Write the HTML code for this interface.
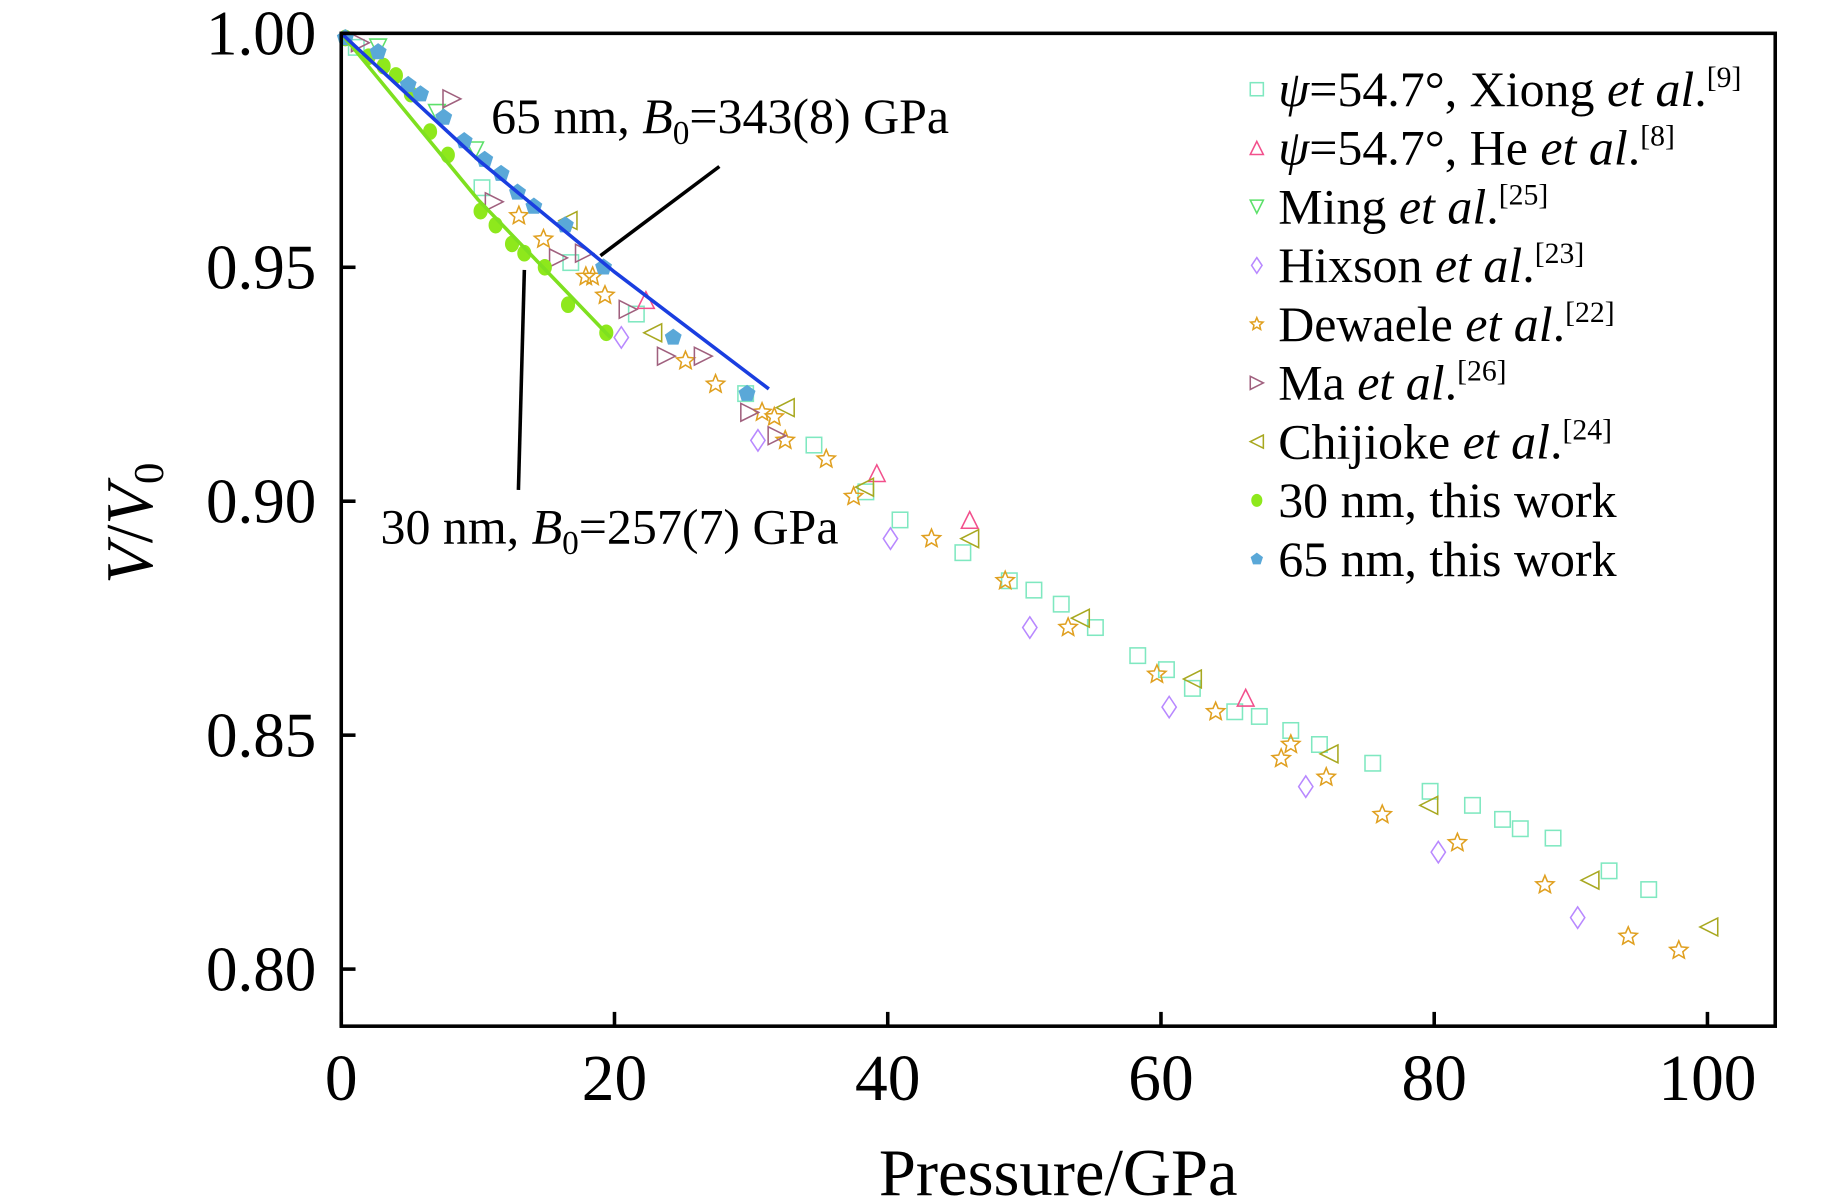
<!DOCTYPE html>
<html><head><meta charset="utf-8"><style>
html,body{margin:0;padding:0;background:#fff;}
svg{display:block;font-family:"Liberation Serif",serif;}
</style></head><body>
<svg id="chart" width="1843" height="1201" viewBox="0 0 1550 1010" xmlns="http://www.w3.org/2000/svg">
<g id="marks"></g>
<rect x="287" y="28" width="1206" height="835" fill="none" stroke="#000" stroke-width="3"/>
<g id="axes"></g>
<text x="890" y="1005" font-size="56" text-anchor="middle">Pressure/GPa</text>
<text transform="translate(128,440) rotate(-90)" font-size="56" text-anchor="middle"><tspan font-style="italic">V</tspan>/<tspan font-style="italic">V</tspan><tspan font-size="36" dy="9">0</tspan></text>
<line x1="505" y1="215" x2="605" y2="140" stroke="#000" stroke-width="3"/>
<line x1="436" y1="412" x2="441" y2="227" stroke="#000" stroke-width="3"/>
<text x="413" y="112" font-size="42">65 nm, <tspan font-style="italic">B</tspan><tspan font-size="28" dy="9">0</tspan><tspan dy="-9">=343(8) GPa</tspan></text>
<text x="320" y="457" font-size="42">30 nm, <tspan font-style="italic">B</tspan><tspan font-size="28" dy="9">0</tspan><tspan dy="-9">=257(7) GPa</tspan></text>
<g id="legend" font-size="42">
<text x="1075" y="89"><tspan font-style="italic">ψ</tspan>=54.7°, Xiong <tspan font-style="italic">et al</tspan>.<tspan font-size="25" dy="-16">[9]</tspan></text>
<text x="1075" y="138.4"><tspan font-style="italic">ψ</tspan>=54.7°, He <tspan font-style="italic">et al</tspan>.<tspan font-size="25" dy="-16">[8]</tspan></text>
<text x="1075" y="187.8">Ming <tspan font-style="italic">et al</tspan>.<tspan font-size="25" dy="-16">[25]</tspan></text>
<text x="1075" y="237.2">Hixson <tspan font-style="italic">et al</tspan>.<tspan font-size="25" dy="-16">[23]</tspan></text>
<text x="1075" y="286.6">Dewaele <tspan font-style="italic">et al</tspan>.<tspan font-size="25" dy="-16">[22]</tspan></text>
<text x="1075" y="336">Ma <tspan font-style="italic">et al</tspan>.<tspan font-size="25" dy="-16">[26]</tspan></text>
<text x="1075" y="385.4">Chijioke <tspan font-style="italic">et al</tspan>.<tspan font-size="25" dy="-16">[24]</tspan></text>
<text x="1075" y="434.8">30 nm, this work</text>
<text x="1075" y="484.2">65 nm, this work</text>
</g>
<script>
const xTicks=[0,20,40,60,80,100];
const yTicks=[0.80,0.85,0.90,0.95,1.00];
const yTickLabels=["0.80","0.85","0.90","0.95","1.00"];
const xiongP=[1.1,10.3,16.8,21.6,29.6,34.6,38.4,40.9,45.5,48.9,50.7,52.7,55.2,58.3,60.4,62.3,65.4,67.2,69.5,71.6,75.5,79.7,82.8,85.0,86.3,88.7,92.8,95.7];
const xiongV=[0.997,0.967,0.951,0.940,0.923,0.912,0.902,0.896,0.889,0.883,0.881,0.878,0.873,0.867,0.864,0.860,0.855,0.854,0.851,0.848,0.844,0.838,0.835,0.832,0.830,0.828,0.821,0.817];
const heP=[22.3,39.2,46.0,66.2];
const heV=[0.943,0.906,0.896,0.858];
const mingP=[2.7,7.0,9.8];
const mingV=[0.997,0.983,0.975];
const hixP=[20.5,30.5,40.2,50.4,60.6,70.6,80.3,90.5];
const hixV=[0.935,0.913,0.892,0.873,0.856,0.839,0.825,0.811];
const dewP=[13.0,14.8,17.9,18.4,19.3,25.2,27.4,30.8,31.7,32.5,35.5,37.5,43.2,48.6,53.2,59.7,64.0,68.8,69.5,72.1,76.2,81.7,88.1,94.2,97.9];
const dewV=[0.961,0.956,0.948,0.948,0.944,0.930,0.925,0.919,0.918,0.913,0.909,0.901,0.892,0.883,0.873,0.863,0.855,0.845,0.848,0.841,0.833,0.827,0.818,0.807,0.804];
const maP=[1.4,8.1,11.2,15.9,17.8,21.0,23.8,26.5,29.9,31.9];
const maV=[0.998,0.986,0.964,0.952,0.953,0.941,0.931,0.931,0.919,0.914];
const chiP=[16.6,22.8,32.5,38.3,46.0,54.1,62.3,72.3,79.6,91.4,100.1];
const chiV=[0.960,0.936,0.920,0.903,0.892,0.875,0.862,0.846,0.835,0.819,0.809];
const n30P=[0.3,2.0,3.1,4.0,5.1,6.5,7.8,10.2,11.3,12.5,13.4,14.9,16.6,19.4];
const n30V=[0.999,0.995,0.993,0.991,0.987,0.979,0.974,0.962,0.959,0.955,0.953,0.950,0.942,0.936];
const n65P=[0.3,2.7,4.9,5.8,7.5,9.0,10.5,11.7,12.9,14.1,16.4,19.2,24.3,29.7];
const n65V=[0.999,0.996,0.989,0.987,0.982,0.977,0.973,0.970,0.966,0.963,0.959,0.950,0.935,0.923];
const fit65P=[0,10,20,31.3];
const fit65V=[1.0,0.973,0.949,0.924];
const fit30P=[0,10,19.7];
const fit30V=[1.0,0.9645,0.935];

const NS="http://www.w3.org/2000/svg";
function sx(p){return 287+p*11.49;}
function sy(v){return 28+(1-v)*3935;}
function mk(tag,attrs,parent){const e=document.createElementNS(NS,tag);for(const k in attrs)e.setAttribute(k,attrs[k]);parent.appendChild(e);return e;}
const axes=document.getElementById('axes');
xTicks.forEach(t=>{
  const l=mk('line',{x1:sx(t),x2:sx(t),y1:863,y2:851,stroke:'#000','stroke-width':3},axes);
  
  
  const tx=mk('text',{x:sx(t),y:925,'font-size':55,'text-anchor':'middle'},axes);
  tx.textContent=t;
  
  
});
yTicks.forEach((t,i)=>{
  const l=mk('line',{x1:287,x2:299,y1:sy(t),y2:sy(t),stroke:'#000','stroke-width':3},axes);
  
  
  const tx=mk('text',{x:266,y:sy(t)+18,'font-size':53,'text-anchor':'end'},axes);
  tx.textContent=yTickLabels[i];
  
  
});
function shape(type,x,y,s,color,parent){
  const h=s/2;let e;
  if(type==='square')e=mk('rect',{x:x-h,y:y-h,width:s,height:s,fill:'none',stroke:color,'stroke-width':1.3},parent);
  else if(type==='up')e=mk('polygon',{points:`${x},${y-h} ${x+h},${y+h} ${x-h},${y+h}`,fill:'none',stroke:color,'stroke-width':1.3},parent);
  else if(type==='down')e=mk('polygon',{points:`${x-h},${y-h} ${x+h},${y-h} ${x},${y+h}`,fill:'none',stroke:color,'stroke-width':1.3},parent);
  else if(type==='right')e=mk('polygon',{points:`${x-h},${y-h} ${x+h},${y} ${x-h},${y+h}`,fill:'none',stroke:color,'stroke-width':1.3},parent);
  else if(type==='left')e=mk('polygon',{points:`${x+h},${y-h} ${x-h},${y} ${x+h},${y+h}`,fill:'none',stroke:color,'stroke-width':1.3},parent);
  else if(type==='diamond')e=mk('polygon',{points:`${x},${y-h*1.2} ${x+h*0.8},${y} ${x},${y+h*1.2} ${x-h*0.8},${y}`,fill:'none',stroke:color,'stroke-width':1.3},parent);
  else if(type==='star'){let pts=[];for(let i=0;i<10;i++){const r=i%2?h*0.45:h;const a=-Math.PI/2+i*Math.PI/5;pts.push((x+r*Math.cos(a)).toFixed(1)+','+(y+r*Math.sin(a)).toFixed(1));}
    e=mk('polygon',{points:pts.join(' '),fill:'none',stroke:color,'stroke-width':1.3},parent);}
  else if(type==='circle')e=mk('ellipse',{cx:x,cy:y,rx:h*0.85,ry:h,fill:color},parent);
  else if(type==='pent'){let pts=[];for(let i=0;i<5;i++){const a=-Math.PI/2+i*2*Math.PI/5;pts.push((x+h*Math.cos(a)).toFixed(1)+','+(y+h*Math.sin(a)).toFixed(1));}
    e=mk('polygon',{points:pts.join(' '),fill:color},parent);}
  return e;
}
const series=[
 {name:'xiong',P:xiongP,V:xiongV,t:'square',c:'#7fe8c0',s:13},
 {name:'he',P:heP,V:heV,t:'up',c:'#f2508c',s:14},
 {name:'ming',P:mingP,V:mingV,t:'down',c:'#5ce06a',s:14},
 {name:'hixson',P:hixP,V:hixV,t:'diamond',c:'#b888ff',s:15},
 {name:'dewaele',P:dewP,V:dewV,t:'star',c:'#e0a020',s:16},
 {name:'ma',P:maP,V:maV,t:'right',c:'#a0607e',s:15},
 {name:'chijioke',P:chiP,V:chiV,t:'left',c:'#a8a820',s:15},
 {name:'30nm',P:n30P,V:n30V,t:'circle',c:'#8ee81c',s:14},
 {name:'65nm',P:n65P,V:n65V,t:'pent',c:'#5aa8d8',s:15}
];
const marks=document.getElementById('marks');
series.forEach(sr=>{
  const g=mk('g',{},marks);
  
  
  sr.P.forEach((p,i)=>{
    const e=shape(sr.t,sx(p),sy(sr.V[i]),sr.s,sr.c,g);
    
    
  });
});
function fitLine(P,V,color,name){
  const d=P.map((p,i)=>(i?'L':'M')+sx(p).toFixed(1)+','+sy(V[i]).toFixed(1)).join(' ');
  const e=mk('path',{d:d,fill:'none',stroke:color,'stroke-width':3},marks);
  
  
}
fitLine(fit30P,fit30V,'#7ee020','fit-line-30nm');
fitLine(fit65P,fit65V,'#1a3ee0','fit-line-65nm');
const legend=document.getElementById('legend');
series.forEach((sr,i)=>{
  const y=75+i*49.4;
  const e=shape(sr.t,1057,y,11,sr.c,legend);
  
  
});
</script>
</svg>
</body></html>
